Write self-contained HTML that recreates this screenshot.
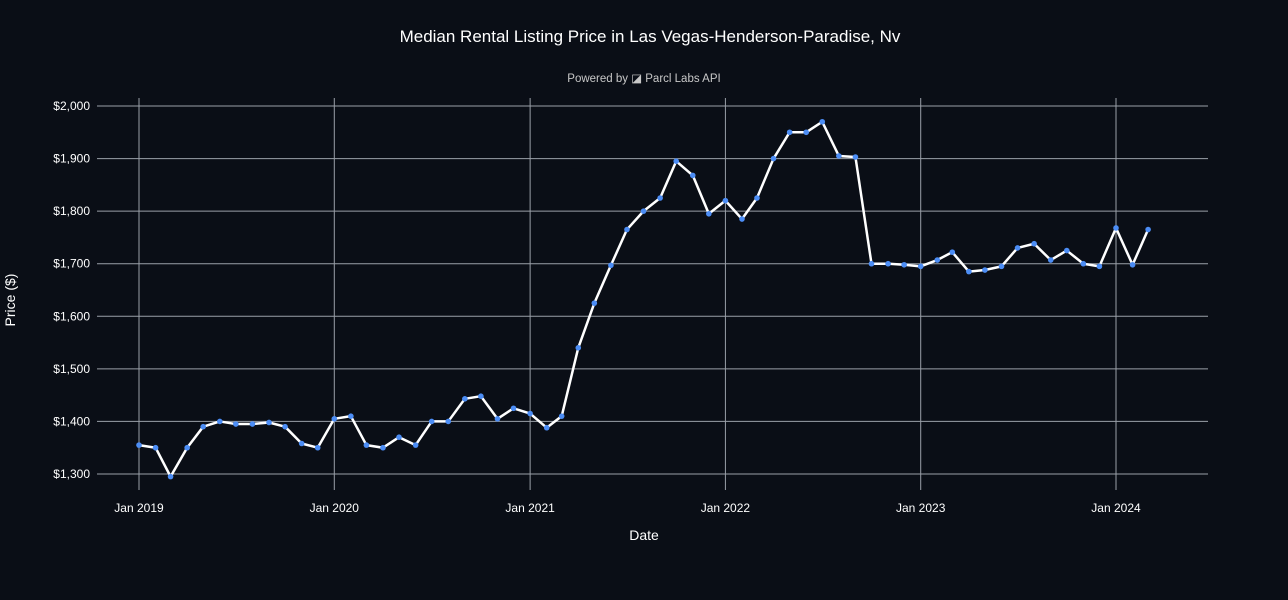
<!DOCTYPE html>
<html><head><meta charset="utf-8"><style>
html,body{margin:0;padding:0;background:#0a0e16;overflow:hidden;width:1288px;height:600px;}
svg{display:block;}
svg text{font-family:"Liberation Sans",sans-serif;fill:#fff;}
</style></head><body>
<svg id="chart" width="1288" height="600" xmlns="http://www.w3.org/2000/svg">
<rect width="1288" height="600" fill="#0a0e16"/>
<text x="650" y="42" text-anchor="middle" font-size="17">Median Rental Listing Price in Las Vegas-Henderson-Paradise, Nv</text>
<text x="644" y="82" text-anchor="middle" font-size="11.5" style="fill:#c8c8c8">Powered by ◪ Parcl Labs API</text>
<g id="grid"></g><g id="axes"></g><g id="series"></g>
<text x="644" y="540" text-anchor="middle" font-size="14">Date</text>
<text transform="translate(15,300) rotate(-90)" text-anchor="middle" font-size="14">Price ($)</text>
</svg>
<script>
const prices=[1355,1350,1295,1350,1390,1400,1395,1395,1398,1390,1358,1350,
1405,1410,1355,1350,1370,1355,1400,1400,1443,1448,1405,1425,
1415,1388,1410,1540,1625,1697,1765,1800,1825,1895,1868,1795,
1820,1785,1825,1900,1950,1950,1970,1905,1903,1700,1700,1698,
1695,1707,1722,1685,1688,1695,1730,1738,1707,1725,1700,1695,
1768,1698,1765];
const startYear=2019;
const yTicks=[1300,1400,1500,1600,1700,1800,1900,2000];
const xTickYears=[2019,2020,2021,2022,2023,2024];
const NS="http://www.w3.org/2000/svg";
const t0=Date.UTC(2019,0,1),t1=Date.UTC(2024,0,1);
function xs(d){return 139+(d-t0)/(t1-t0)*977;}
function ys(v){return 474-(v-1300)/700*368;}
function mk(tag,attrs,parent){const e=document.createElementNS(NS,tag);for(const k in attrs)e.setAttribute(k,attrs[k]);document.getElementById(parent).appendChild(e);return e;}
yTicks.forEach(v=>{
 const l=mk('line',{x1:97,x2:1208,y1:ys(v),y2:ys(v),stroke:'#9aa0a8','stroke-width':1},'grid');
 
 
 const t=mk('text',{x:90,y:ys(v)+4,'text-anchor':'end','font-size':12},'axes');
 t.textContent='$'+v.toLocaleString('en-US');
 
 
});
xTickYears.forEach(yr=>{
 const x=xs(Date.UTC(yr,0,1));
 const l=mk('line',{x1:x,x2:x,y1:98,y2:490,stroke:'#9aa0a8','stroke-width':1},'grid');
 
 
 const t=mk('text',{x:x,y:512,'text-anchor':'middle','font-size':12},'axes');
 t.textContent='Jan '+yr;
 
 
});
const pts=prices.map((v,i)=>[xs(Date.UTC(startYear,i,1)),ys(v)]);
const line=mk('polyline',{points:pts.map(p=>p.join(',')).join(' '),fill:'none',stroke:'#fff','stroke-width':2.5,'stroke-linejoin':'round'},'series');


pts.forEach(p=>{
 const c=mk('circle',{cx:p[0],cy:p[1],r:2.8,fill:'#4c8df5'},'series');
 
 
});
</script>
</body></html>
